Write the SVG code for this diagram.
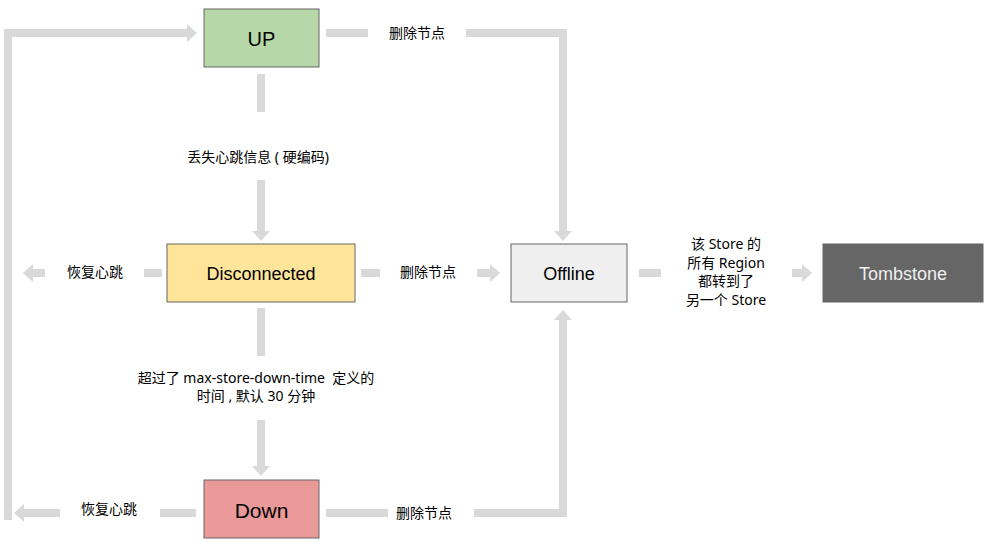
<svg xmlns="http://www.w3.org/2000/svg" width="990" height="544" viewBox="0 0 990 544">
<style>
.c{fill:none;stroke:#d9d9d9;stroke-width:8;stroke-linecap:butt;stroke-linejoin:miter}
.box{stroke:#666;stroke-width:1}
.nt{font-family:"Liberation Sans",Arial,sans-serif;text-anchor:middle;dominant-baseline:central;fill:#000}
.lb{font-family:"Noto Sans","Noto Sans CJK SC",sans-serif;font-size:14px;text-anchor:middle;fill:#000}
</style>
<defs>
<marker id="ah" markerUnits="userSpaceOnUse" markerWidth="11" markerHeight="20" viewBox="0 0 11 20" refX="0" refY="10" orient="auto">
<polygon points="0,1 10,10 0,19" fill="#d9d9d9"/>
</marker>
</defs>
<rect width="990" height="544" fill="#fff"/>
<g id="connectors">
<path class="c" d="M326,33 H368"/>
<path class="c" d="M466,33 H563 V231" marker-end="url(#ah)"/>
<path class="c" d="M261,74 V112"/>
<path class="c" d="M261,180 V231" marker-end="url(#ah)"/>
<path class="c" d="M162,273 H144"/>
<path class="c" d="M45,273 H33" marker-end="url(#ah)"/>
<path class="c" d="M361,273 H380"/>
<path class="c" d="M477,273 H490" marker-end="url(#ah)"/>
<path class="c" d="M639,273 H661"/>
<path class="c" d="M792,273 H802" marker-end="url(#ah)"/>
<path class="c" d="M261,308 V356"/>
<path class="c" d="M261,420 V466" marker-end="url(#ah)"/>
<path class="c" d="M196,513 H160"/>
<path class="c" d="M60,513 H24" marker-end="url(#ah)"/>
<path class="c" d="M8,520 V33 H187" marker-end="url(#ah)"/>
<path class="c" d="M326,513 H388"/>
<path class="c" d="M474,513 H563 V320" marker-end="url(#ah)"/>
</g>
<g id="labels">
<text class="lb" x="417" y="38">删除节点</text>
<text class="lb" x="258" y="162">丢失心跳信息 ( 硬编码)</text>
<text class="lb" x="95" y="277">恢复心跳</text>
<text class="lb" x="428" y="277">删除节点</text>
<text class="lb" x="726" y="249">该 Store 的</text>
<text class="lb" x="726" y="268">所有 Region</text>
<text class="lb" x="726" y="286">都转到了</text>
<text class="lb" x="726" y="305">另一个 Store</text>
<text class="lb" x="256" y="383">超过了 max-store-down-time&#160; 定义的</text>
<text class="lb" x="256" y="401">时间 , 默认 30 分钟</text>
<text class="lb" x="109" y="514">恢复心跳</text>
<text class="lb" x="424" y="518">删除节点</text>
</g>
<g id="node-up">
<rect class="box" x="204" y="9" width="115" height="58" fill="#b6d7a8"/>
<text class="nt" x="261.5" y="39" font-size="20">UP</text>
</g>
<g id="node-disconnected">
<rect class="box" x="167" y="244" width="188" height="58" fill="#ffe599"/>
<text class="nt" x="261" y="274" font-size="18">Disconnected</text>
</g>
<g id="node-down">
<rect class="box" x="204" y="480" width="115" height="58" fill="#ea9999"/>
<text class="nt" x="261.5" y="510" font-size="21">Down</text>
</g>
<g id="node-offline">
<rect class="box" x="511" y="244" width="116" height="58" fill="#efefef"/>
<text class="nt" x="569" y="274" font-size="18">Offline</text>
</g>
<g id="node-tombstone">
<rect x="823" y="244" width="160" height="58" fill="#666666" stroke="#666" stroke-width="1"/>
<text class="nt" x="903" y="274" font-size="18" style="fill:#efefef">Tombstone</text>
</g>
</svg>
